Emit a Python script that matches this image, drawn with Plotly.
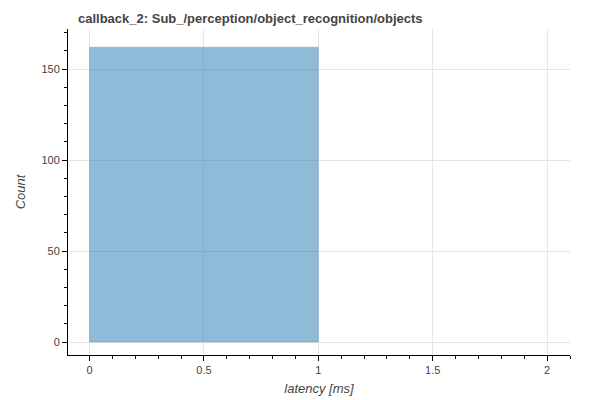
import plotly.graph_objects as go

# histogram of latencies
bin_left = [0.0]
bin_right = [1.0]
counts = [162]

centers = [(l + r) / 2 for l, r in zip(bin_left, bin_right)]
widths = [r - l for l, r in zip(bin_left, bin_right)]

FONT = "Liberation Sans"

fig = go.Figure()
fig.add_trace(
    go.Bar(
        x=centers,
        y=counts,
        width=widths,
        marker=dict(
            color="rgba(31,119,180,0.5)",
            line=dict(color="rgba(31,119,180,0.25)", width=1),
        ),
    )
)

axis_common = dict(
    showgrid=True,
    gridcolor="#e5e5e5",
    zeroline=False,
    showline=True,
    linecolor="#000",
    linewidth=1,
    ticks="outside",
    ticklen=5,
    tickcolor="#000",
    minor=dict(ticks="outside", ticklen=3, tickcolor="#000", showgrid=False),
    tickfont=dict(family=FONT, size=11, color="#444"),
)

fig.update_layout(
    width=600,
    height=400,
    margin=dict(l=46, r=38, t=21, b=53),
    plot_bgcolor="white",
    paper_bgcolor="white",
    showlegend=False,
    title=dict(
        text="<b>callback_2: Sub_/perception/object_recognition/objects</b>",
        x=0.0,
        xref="paper",
        y=0.985,
        yanchor="top",
        font=dict(family=FONT, size=13, color="#444"),
        pad=dict(l=10),
    ),
    xaxis=dict(
        range=[-0.094, 2.1],
        tickvals=[0, 0.5, 1, 1.5, 2],
        ticktext=["0", "0.5", "1", "1.5", "2"],
        title=dict(text="<i>latency [ms]</i>", font=dict(family=FONT, size=13, color="#444"), standoff=8),
        **axis_common,
    ),
    yaxis=dict(
        range=[-7.1, 172],
        tickvals=[0, 50, 100, 150],
        title=dict(text="<i>Count</i>", font=dict(family=FONT, size=13, color="#444"), standoff=12),
        **axis_common,
    ),
)

fig.write_html("out.html")
